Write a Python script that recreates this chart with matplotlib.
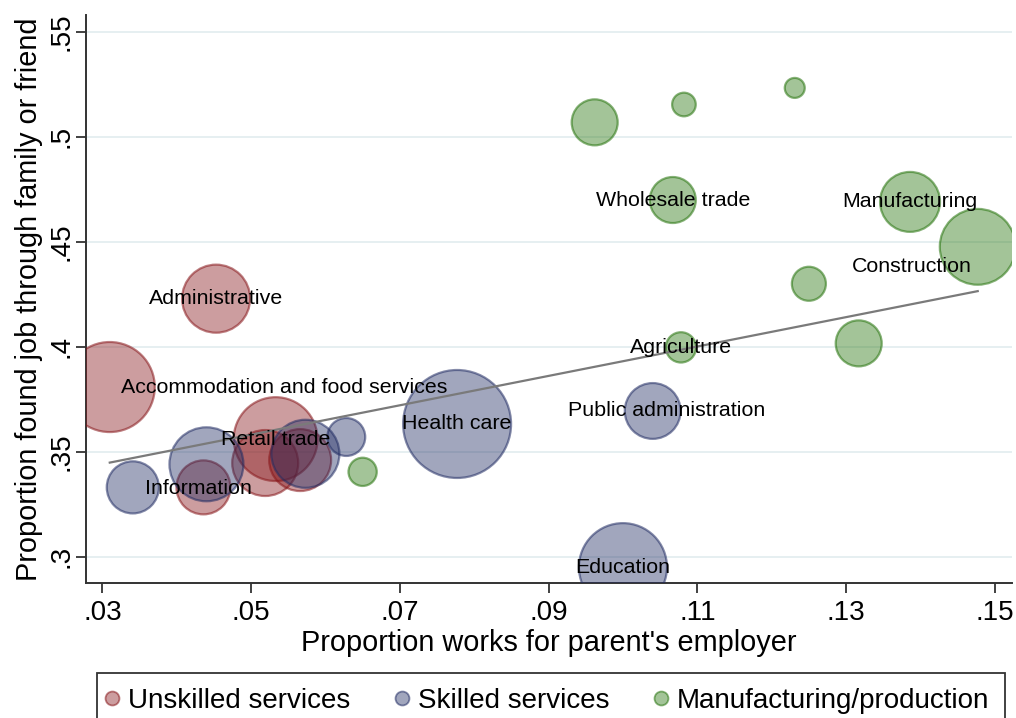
import numpy as np
import matplotlib
matplotlib.use('Agg')
import matplotlib.pyplot as plt
from matplotlib.lines import Line2D
from matplotlib.patches import Rectangle

# x: share working for parent's employer, y: share found job via family/friend
# w: bubble weight (relative industry size)
unsk_x = [0.0310, 0.0453, 0.0533, 0.0519, 0.0566, 0.0436]
unsk_y = [0.3808, 0.4229, 0.3560, 0.3446, 0.3460, 0.3330]
unsk_w = [20.3, 11.6, 17.6, 10.9, 9.6, 7.3]
unsk_lab = ['Accommodation and food services', 'Administrative', 'Retail trade', None, None, None]

skil_x = [0.0341, 0.0440, 0.0573, 0.0628, 0.0777, 0.1040, 0.1000]
skil_y = [0.3330, 0.3440, 0.3490, 0.3570, 0.3632, 0.3694, 0.2950]
skil_w = [6.8, 13.7, 11.6, 3.6, 29.2, 7.8, 19.4]
skil_lab = ['Information', None, None, None, 'Health care', 'Public administration', 'Education']

manu_x = [0.0650, 0.1078, 0.1317, 0.1250, 0.1477, 0.1386, 0.1067, 0.0962, 0.1082, 0.1231]
manu_y = [0.3404, 0.3997, 0.4016, 0.4300, 0.4476, 0.4690, 0.4699, 0.5069, 0.5154, 0.5233]
manu_w = [2.0, 2.3, 5.3, 2.9, 14.4, 9.0, 5.3, 5.3, 1.4, 1.0]
manu_lab = [None, 'Agriculture', None, None, 'Construction', 'Manufacturing',
            'Wholesale trade', None, None, None]

fit_intercept = 0.3231
fit_slope = 0.700

x_ticks = [0.03, 0.05, 0.07, 0.09, 0.11, 0.13, 0.15]
x_ticklabels = ['.03', '.05', '.07', '.09', '.11', '.13', '.15']
y_ticks = [0.30, 0.35, 0.40, 0.45, 0.50, 0.55]
y_ticklabels = ['.3', '.35', '.4', '.45', '.5', '.55']

# label placement: (dx, dy in points, ha)
lab_pos = {'Accommodation and food services': (8, 0, 'left'),
           'Information': (9, -1, 'left'),
           'Construction': (-4, -14, 'right'),
           'Public administration': (10, 0, 'center')}

fam = ['Liberation Sans', 'DejaVu Sans']

groups = [
    ('Unskilled services', unsk_x, unsk_y, unsk_w, unsk_lab, (135/255, 22/255, 26/255)),
    ('Skilled services', skil_x, skil_y, skil_w, skil_lab, (33/255, 44/255, 99/255)),
    ('Manufacturing/production', manu_x, manu_y, manu_w, manu_lab, (37/255, 115/255, 11/255)),
]

fig = plt.figure(figsize=(10.16, 7.18), dpi=100)
ax = fig.add_axes([0.0846, 0.1876, 0.9114, 0.7914])

for name, xs, ys, ws, labs, col in groups:
    ax.scatter(xs, ys, s=np.array(ws) * 207, facecolor=(*col, 0.42),
               edgecolor=(*col, 0.55), linewidth=1.6, zorder=3)

allx = unsk_x + skil_x + manu_x
fx = np.array([min(allx), max(allx)])
ax.plot(fx, fit_intercept + fit_slope * fx, color='#7a7a7a', lw=1.6, zorder=4)

for name, xs, ys, ws, labs, col in groups:
    for x, y, lab in zip(xs, ys, labs):
        if lab is None:
            continue
        dx, dy, ha = lab_pos.get(lab, (0, 0, 'center'))
        ax.annotate(lab, (x, y), xytext=(dx, dy), textcoords='offset points',
                    ha=ha, va='center', fontsize=15.4, family=fam, zorder=5)

ax.set_xlim(0.0278, 0.1523)
ax.set_ylim(0.2873, 0.558)
ax.set_xticks(x_ticks)
ax.set_xticklabels(x_ticklabels, family=fam, fontsize=20)
ax.set_yticks(y_ticks)
ax.set_yticklabels(y_ticklabels, family=fam, fontsize=20, rotation=90, va='center')
ax.tick_params(axis='both', length=7, width=1.3, color='#333333')
ax.tick_params(axis='x', pad=5)
ax.tick_params(axis='y', pad=1)
ax.grid(axis='y', color='#e4eef0', lw=1.3, zorder=0)
ax.set_axisbelow(True)
for s in ['top', 'right']:
    ax.spines[s].set_visible(False)
for s in ['left', 'bottom']:
    ax.spines[s].set_linewidth(1.4)
    ax.spines[s].set_color('#333333')

ax.set_xlabel("Proportion works for parent's employer", family=fam, fontsize=20.8, labelpad=2)
ax.set_ylabel('Proportion found job through family or friend', family=fam, fontsize=20.8, labelpad=4)

# legend box (Stata style, bottom cut by the image edge)
fig.patches.append(Rectangle((97/1016, -0.05), 908/1016, 0.05 + 45/718,
                             transform=fig.transFigure, fill=False, lw=1.3,
                             ec='#333333', zorder=1))
handles = [Line2D([], [], ls='none', marker='o', markersize=10,
                  markerfacecolor=(*g[5], 0.42), markeredgecolor=(*g[5], 0.55),
                  markeredgewidth=1.3) for g in groups]
leg = fig.legend(handles, [g[0] for g in groups], loc='center left', ncol=3,
                 bbox_to_anchor=(91/1016, 1 - 701/718), frameon=False,
                 prop={'family': fam, 'size': 20}, borderpad=0,
                 handletextpad=0.32, columnspacing=1.62, handlelength=0.5)

fig.savefig('out.png', dpi=100)
